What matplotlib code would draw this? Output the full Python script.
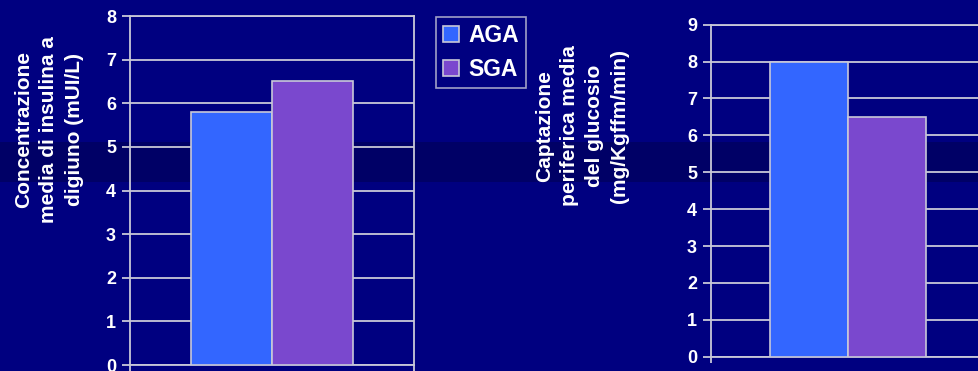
import matplotlib.pyplot as plt
from matplotlib.patches import Patch, Rectangle

# dati
gruppi = ["AGA", "SGA"]
insulina = [5.8, 6.5]
captazione = [8.0, 6.5]
colori = ["#3366FF", "#7A48CE"]

sfondo = "#000080"
griglia = "#C8C8D8"

plt.rcParams['font.family'] = ['Liberation Sans', 'DejaVu Sans']
plt.rcParams['font.weight'] = 'bold'

fig = plt.figure(figsize=(9.79, 3.71), dpi=100, facecolor=sfondo)

# banda scura dello sfondo
fig.patches.append(Rectangle((0, 1 - 182/371), 1, 40/371, transform=fig.transFigure,
                             facecolor="#000066", edgecolor="none", zorder=-10))


def pannello(rect, valori, ymax):
    ax = fig.add_axes(rect)
    ax.set_facecolor("none")
    x = [-0.5, 0.5]
    ax.bar(x, valori, width=1.0, color=colori, edgecolor=griglia, linewidth=1.2, zorder=3)
    ax.set_xlim(-1.75, 1.75)
    ax.set_ylim(0, ymax)
    ax.set_yticks(range(0, ymax + 1))
    ax.set_xticks([-1.75, 1.75])
    ax.set_xticklabels([])
    ax.yaxis.grid(True, color=griglia, linewidth=1.3, zorder=0)
    ax.set_axisbelow(True)
    for s in ax.spines.values():
        s.set_color(griglia)
        s.set_linewidth(1.3)
    ax.tick_params(axis='y', colors=griglia, labelcolor='white', labelsize=13,
                   length=6, width=1.3, pad=4)
    ax.tick_params(axis='x', colors=griglia, length=4, width=1.3)
    for t in ax.get_yticklabels():
        t.set_fontweight('bold')
    return ax


ax1 = pannello([130/979, 6/371, 284/979, 349/371], insulina, 8)
ax2 = pannello([711/979, 14.3/371, 274/979, 332/371], captazione, 9)

fig.text(49/979, 1 - 130/371, "Concentrazione\nmedia di insulina a\ndigiuno (mUI/L)",
         rotation=90, ha='center', va='center', ma='center', color='white',
         fontsize=15, fontweight='bold', linespacing=1.4)
fig.text(582/979, 1 - 126/371, "Captazione\nperiferica media\ndel glucosio\n(mg/Kgffm/min)",
         rotation=90, ha='center', va='center', ma='center', color='white',
         fontsize=15, fontweight='bold', linespacing=1.4)

maniglie = [Patch(facecolor=c, edgecolor=griglia, linewidth=1.2) for c in colori]
leg = fig.legend(maniglie, gruppi, loc='upper left', bbox_to_anchor=(436/979, 1 - 17/371),
                 frameon=True, fancybox=False, facecolor=sfondo, edgecolor=griglia,
                 fontsize=16.5, handlelength=0.7, handleheight=0.7, handletextpad=0.4,
                 labelspacing=0.5, borderpad=0.3, borderaxespad=0)
leg.get_frame().set_linewidth(1.2)
for t in leg.get_texts():
    t.set_color('white')
    t.set_fontweight('bold')

fig.savefig("out.png", dpi=100, facecolor=sfondo)
